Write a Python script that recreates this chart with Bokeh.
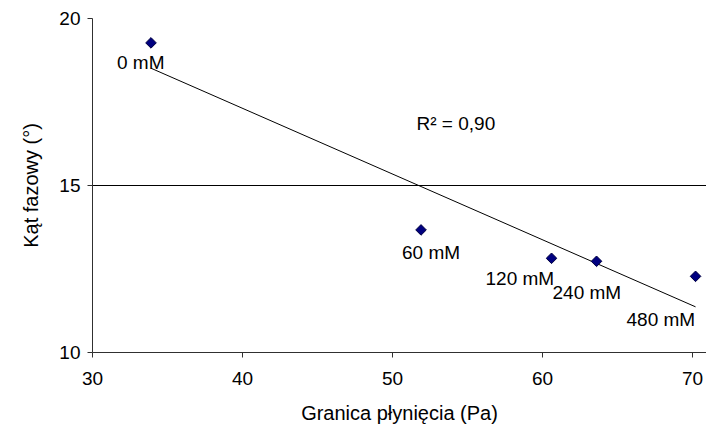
import numpy as np
from bokeh.plotting import figure
from bokeh.models import FixedTicker, Label, ColumnDataSource, Range1d
from bokeh.core.properties import value
from bokeh.embed import file_html
from bokeh.resources import INLINE

# data
yield_stress = [33.9, 51.9, 60.6, 63.6, 70.2]
phase_angle = [19.27, 13.67, 12.82, 12.73, 12.28]
conc_labels = ["0 mM", "60 mM", "120 mM", "240 mM", "480 mM"]
x_ticks = [30, 40, 50, 60, 70]
y_ticks = [10, 15, 20]

# label placement (screen px, relative to point)
label_dx = [-34, -19, -66, -44, -69]
label_dy = [20, 23, 20, 31, 43]

FONT = "Liberation Sans"
FS = "19px"

xa = np.array(yield_stress)
ya = np.array(phase_angle)
slope, intercept = np.polyfit(xa, ya, 1)
pred = slope * xa + intercept
r2 = 1 - np.sum((ya - pred) ** 2) / np.sum((ya - ya.mean()) ** 2)
tx = [xa.min(), xa.max()]
ty = [slope * v + intercept for v in tx]

p = figure(width=706, height=426, output_backend="svg", toolbar_location=None,
           x_range=Range1d(30, 70.93), y_range=Range1d(10, 20),
           min_border_left=92, min_border_top=18, min_border_bottom=74,
           min_border_right=0)
p.outline_line_color = None
p.background_fill_color = "white"
p.border_fill_color = "white"

p.xgrid.grid_line_color = None
p.ygrid.ticker = FixedTicker(ticks=y_ticks)
p.ygrid.grid_line_color = "black"
p.ygrid.grid_line_width = 1

for ax in (p.xaxis[0], p.yaxis[0]):
    ax.axis_line_color = "#303030"
    ax.major_tick_line_color = "#303030"
    ax.major_tick_in = 0
    ax.major_tick_out = 5
    ax.minor_tick_line_color = None
    ax.major_label_text_font = FONT
    ax.major_label_text_font_size = FS
    ax.major_label_text_color = "black"
    ax.axis_label_text_font = FONT
    ax.axis_label_text_font_size = "20px"
    ax.axis_label_text_font_style = "normal"
    ax.axis_label_text_color = "black"

p.xaxis.ticker = FixedTicker(ticks=x_ticks)
p.yaxis.ticker = FixedTicker(ticks=y_ticks)
p.xaxis.axis_label = "Granica płynięcia (Pa)"
p.yaxis.axis_label = "Kąt fazowy (°)"
p.xaxis.major_label_standoff = 14
p.xaxis.axis_label_standoff = 14
p.yaxis.major_label_standoff = 7
p.yaxis.axis_label_standoff = 14

p.line(tx, ty, line_color="black", line_width=1)

src = ColumnDataSource(dict(x=yield_stress, y=phase_angle, t=conc_labels,
                            dx=label_dx, dy=label_dy))
p.scatter("x", "y", source=src, marker="square", size=7.5, angle=np.pi / 4,
          fill_color="#000080", line_color="#000040", line_width=1)
p.text("x", "y", text="t", source=src, x_offset="dx", y_offset="dy",
       text_font=value(FONT), text_font_size=FS, text_color="black",
       text_align="left", text_baseline="alphabetic")

r2_text = "R² = " + f"{r2:.2f}".replace(".", ",")
p.add_layout(Label(x=51.6, y=16.86, text=r2_text, text_font=FONT,
                   text_font_size=FS, text_color="black",
                   text_align="left", text_baseline="alphabetic"))

open("out.html", "w").write(file_html(p, INLINE))
